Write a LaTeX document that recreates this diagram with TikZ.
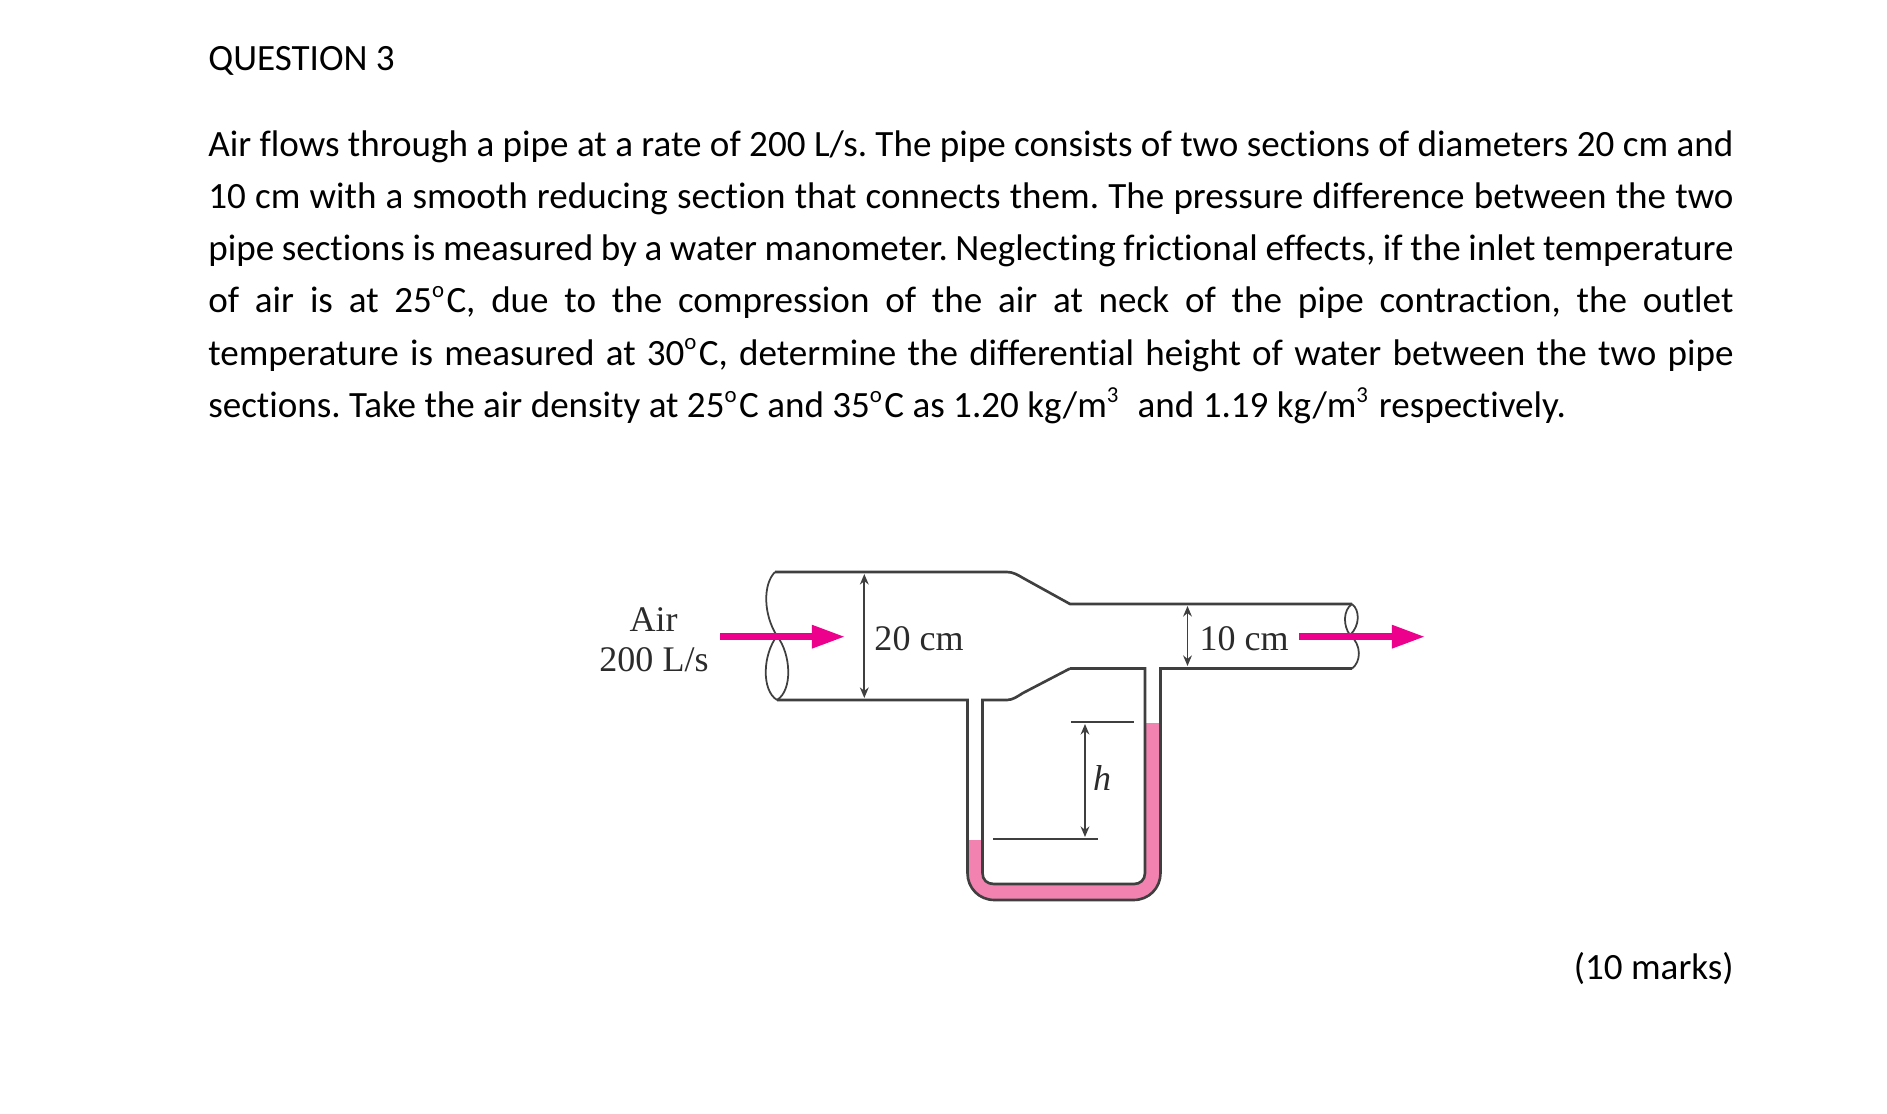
\documentclass[tikz,border=0pt]{standalone}
\usepackage{fontspec}
\setmainfont[Ligatures=NoCommon]{Carlito}
\newfontfamily\figfont{Liberation Serif}
\usetikzlibrary{arrows.meta}
\definecolor{flowpink}{HTML}{EC008C}
\definecolor{waterpink}{HTML}{F283B0}
\definecolor{pipegray}{HTML}{3F3F3F}
\definecolor{labelgray}{HTML}{2B2B2B}
\tikzset{
  qtext/.style={anchor=base west,inner sep=0pt,font=\fontsize{21.1}{25}\selectfont},
  figtext/.style={inner sep=0pt,text=labelgray,font=\figfont\fontsize{20.5}{24}\selectfont},
  pipe/.style={draw=pipegray,line width=1.5pt},
  flow/.style={draw=flowpink,line width=3.7pt,-{Triangle[length=18.9pt,width=12.5pt,fill=flowpink]}},
  dim/.style={draw=pipegray,line width=1pt,{Stealth[length=6pt,width=5pt]}-{Stealth[length=6pt,width=5pt]}}
}
\newcommand{\qline}[1]{\makebox[30.51cm][s]{\frenchspacing #1}}
\newcommand{\qsup}[1]{\raisebox{0.42em}{\fontsize{13}{13}\selectfont #1}\kern1.4pt\relax}
\begin{document}
\begin{tikzpicture}[x=0.02cm,y=-0.02cm]
\useasboundingbox (0,0) rectangle (1887,1114);
% question text
\node[qtext] (title) at (208,71) {QUESTION 3};
\node[qtext] (line1) at (208,157) {\qline{Air flows through a pipe at a rate of 200 L/s. The pipe consists of two sections of diameters 20 cm and}};
\node[qtext] (line2) at (208,209) {\qline{10 cm with a smooth reducing section that connects them. The pressure difference between the two}};
\node[qtext] (line3) at (208,261) {\qline{pipe sections is measured by a water manometer. Neglecting frictional effects, if the inlet temperature}};
\node[qtext] (line4) at (208,313) {\qline{of air is at 25\qsup{o}C, due to the compression of the air at neck of the pipe contraction, the outlet}};
\node[qtext] (line5) at (208,365.5) {\qline{temperature is measured at 30\qsup{o}C, determine the differential height of water between the two pipe}};
\node[qtext] (line6) at (208,418) {\frenchspacing sections. Take the air density at 25\qsup{o}C and 35\qsup{o}C as 1.20 kg/m\qsup{3}\ \ and 1.19 kg/m\qsup{3} respectively.};
\node[qtext,anchor=base east] (marks) at (1734,979.5) {(10 marks)};
% water in the u tube
\fill[waterpink] (967.5,840) -- (967.5,873) .. controls (967.5,888) and (979,900) .. (994.5,900) -- (1133.5,900) .. controls (1149,900) and (1160.5,888) .. (1160.5,873) -- (1160.5,723) -- (1145,723) -- (1145,873) .. controls (1145,880) and (1140,884) .. (1134,884) -- (994,884) .. controls (987,884) and (982.5,880) .. (982.5,873) -- (982.5,840) -- cycle;
% pipe and u tube
\draw[pipe] (775,572) -- (1007,572) .. controls (1013,572) and (1018,575) .. (1023,578) -- (1070,604) -- (1352,604);
\draw[pipe] (777,700) -- (967.5,700) -- (967.5,873) .. controls (967.5,888) and (979,900) .. (994.5,900) -- (1133.5,900) .. controls (1149,900) and (1160.5,888) .. (1160.5,873) -- (1160.5,668.5) -- (1352,668.5);
\draw[pipe] (1070,668.5) -- (1145,668.5) -- (1145,873) .. controls (1145,880) and (1140,884) .. (1134,884) -- (994,884) .. controls (987,884) and (982.5,880) .. (982.5,873) -- (982.5,700) -- (1007,700) .. controls (1013,700) and (1018,696) .. (1023,693) -- (1070,668.5);
% broken pipe ends
\draw[pipe,line width=1pt] (775,572) .. controls (763,584) and (763,614) .. (777,636) .. controls (791,654) and (793,690) .. (777,700);
\draw[pipe,line width=1pt] (777,636) .. controls (763,654) and (761,690) .. (777,700);
\draw[pipe,line width=1pt] (1352,604) .. controls (1343,610) and (1343,626) .. (1350,635);
\draw[pipe,line width=1pt] (1352,604) .. controls (1360,610) and (1360,626) .. (1350,635) .. controls (1362,645) and (1361,662) .. (1352,668.5);
% height marks
\draw[pipe,line width=1pt] (1071,722) -- (1134,722);
\draw[pipe,line width=1pt] (993,839) -- (1098,839);
% dimensions
\coordinate (bigtop) at (864.3,574);
\coordinate (bigbot) at (864.3,698);
\coordinate (smalltop) at (1187.5,606);
\coordinate (smallbot) at (1187.5,666);
\coordinate (htop) at (1085,724);
\coordinate (hbot) at (1085,837);
\draw[dim] (bigtop) -- (bigbot);
\draw[dim] (smalltop) -- (smallbot);
\draw[dim] (htop) -- (hbot);
% flow arrows
\coordinate (inleft) at (720,636.7);
\coordinate (inright) at (845,636.7);
\coordinate (outleft) at (1299,636.7);
\coordinate (outright) at (1425,636.7);
\draw[flow] (inleft) -- (inright);
\draw[flow] (outleft) -- (outright);
% labels
\node[figtext] (air) at (653.5,619.5) {Air};
\node[figtext] (rate) at (654,659.5) {200 L/s};
\node[figtext] (big) at (919,638.5) {20 cm};
\node[figtext] (small) at (1244,638.5) {10 cm};
\node[figtext] (height) at (1102,778) {\itshape h};
\end{tikzpicture}
\end{document}
